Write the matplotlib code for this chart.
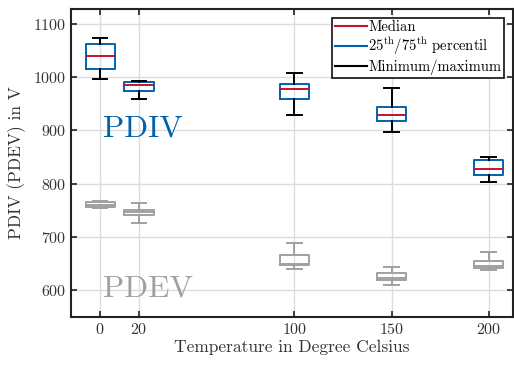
import matplotlib
matplotlib.use("Agg")
import matplotlib.pyplot as plt
from matplotlib.lines import Line2D

plt.rcParams["font.family"] = "serif"
plt.rcParams["font.serif"] = ["cmr10", "DejaVu Serif"]
plt.rcParams["mathtext.fontset"] = "cm"
plt.rcParams["axes.formatter.use_mathtext"] = True

# Temperature positions (degree Celsius)
temps = [0, 20, 100, 150, 200]

# PDIV statistics (V)
pdiv_min = [997, 960, 930, 898, 804]
pdiv_q1 = [1015, 975, 959, 918, 817]
pdiv_med = [1040, 986, 978, 930, 828]
pdiv_q3 = [1062, 991, 987, 945, 845]
pdiv_max = [1074, 992, 1008, 980, 851]

# PDEV statistics (V)
pdev_min = [754, 727, 641, 610, 638]
pdev_q1 = [757, 741, 647, 620, 642]
pdev_med = [761, 747, 650, 624, 645]
pdev_q3 = [765, 751, 667, 632, 656]
pdev_max = [768, 763, 688, 643, 672]

BLUE = "#0062AC"
RED = "#C8102E"
GRAY = "#A0A0A0"


def stats(lo, q1, med, q3, hi):
    return [dict(whislo=a, q1=b, med=c, q3=d, whishi=e, fliers=[])
            for a, b, c, d, e in zip(lo, q1, med, q3, hi)]


fig = plt.figure(figsize=(5.14, 3.65), dpi=100)
ax = fig.add_axes([71 / 514, 1 - 317 / 365, 442 / 514, 308 / 365])

ax.grid(True, color="#dcdcdc", linewidth=1.0, zorder=0)
ax.set_axisbelow(True)

ax.bxp(stats(pdiv_min, pdiv_q1, pdiv_med, pdiv_q3, pdiv_max), positions=temps,
       widths=15, showfliers=False, manage_ticks=False,
       boxprops=dict(color=BLUE, linewidth=1.4),
       medianprops=dict(color=RED, linewidth=1.4),
       whiskerprops=dict(color="black", linewidth=1.4),
       capprops=dict(color="black", linewidth=1.4), capwidths=7.5)

ax.bxp(stats(pdev_min, pdev_q1, pdev_med, pdev_q3, pdev_max), positions=temps,
       widths=15, showfliers=False, manage_ticks=False,
       boxprops=dict(color=GRAY, linewidth=1.4),
       medianprops=dict(color=GRAY, linewidth=1.4),
       whiskerprops=dict(color=GRAY, linewidth=1.4),
       capprops=dict(color=GRAY, linewidth=1.4), capwidths=7.5)

ax.text(1.5, 903, "PDIV", color=BLUE, fontsize=22.5, ha="left", va="center")
ax.text(1.5, 603, "PDEV", color=GRAY, fontsize=22.5, ha="left", va="center")

ax.set_xlim(-15, 212.5)
ax.set_ylim(550, 1128)
ax.set_xticks(temps)
ax.set_yticks([600, 700, 800, 900, 1000, 1100])
ax.tick_params(direction="in", top=True, right=True, length=4, width=1.2,
               labelsize=11.5, colors="#222222", labelcolor="#333333")
for s in ax.spines.values():
    s.set_linewidth(1.5)
    s.set_color("#222222")

ax.set_xlabel("Temperature in Degree Celsius", fontsize=12.5, color="#333333", labelpad=2)
ax.set_ylabel("PDIV (PDEV) in V", fontsize=12.5, color="#333333", labelpad=5)

handles = [
    Line2D([0], [0], color=RED, linewidth=1.5),
    Line2D([0], [0], color=BLUE, linewidth=1.5),
    Line2D([0], [0], color="black", linewidth=1.5),
]
labels = ["Median", r"25$^{\mathrm{th}}$/75$^{\mathrm{th}}$ percentil", "Minimum/maximum"]
leg = ax.legend(handles, labels, loc="upper right", fontsize=10.5, fancybox=False,
                framealpha=1, edgecolor="#222222", handlelength=2.2,
                handletextpad=0.1, labelspacing=0.12, borderpad=0.2,
                borderaxespad=0.6)
leg.get_frame().set_linewidth(1.3)

fig.savefig("out.png", dpi=100)
